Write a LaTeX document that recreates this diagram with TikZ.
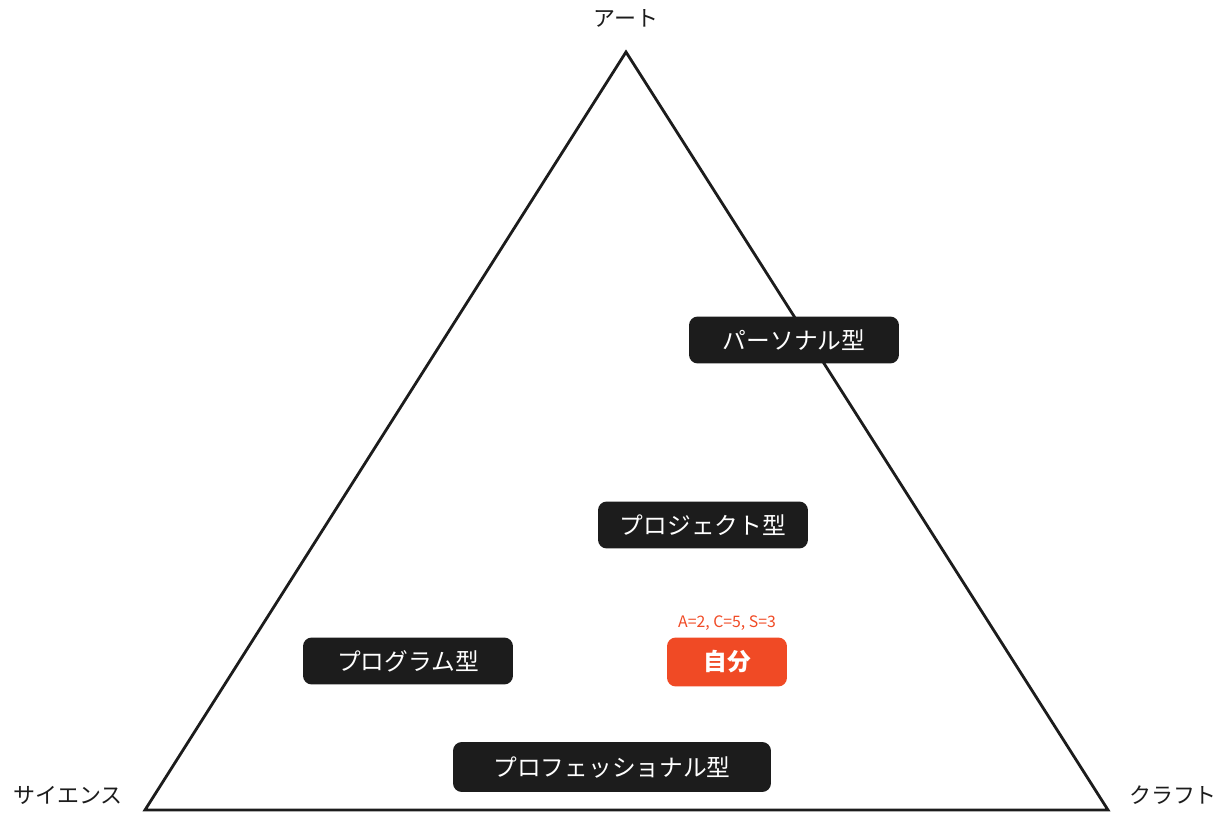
\documentclass[tikz,border=0pt]{standalone}
\usepackage{fontspec}
\setmainfont{Noto Sans CJK JP}
\definecolor{boxdark}{HTML}{1C1C1C}
\definecolor{selfred}{HTML}{F04A25}
\tikzset{
  typebox/.style={fill=boxdark, text=white, rounded corners=5pt, minimum height=0.94cm, font=\fontsize{13.5}{15}\selectfont},
  corner/.style={text=boxdark, font=\fontsize{12.5}{14}\selectfont}
}
\begin{document}
\begin{tikzpicture}[x=0.02cm, y=-0.02cm]
\useasboundingbox (0,0) rectangle (1228,814);

\coordinate (art) at (626,52) ;
\coordinate (sci) at (145,810) ;
\coordinate (cra) at (1108,810) ;
\draw [line width=1.6pt, boxdark, line join=miter] (art) -- (sci) -- (cra) -- cycle ;

\node [corner] (artlabel) at (626,18) {アート} ;
\node [corner] (scilabel) at (68,795) {サイエンス} ;
\node [corner] (cralabel) at (1173,795) {クラフト} ;

\node [typebox, minimum width=4.2cm] (personal) at (794,340) {パーソナル型} ;
\node [typebox, minimum width=4.2cm] (project) at (703,525) {プロジェクト型} ;
\node [typebox, minimum width=4.2cm] (program) at (408,661) {プログラム型} ;
\node [typebox, minimum width=6.36cm, minimum height=1.0cm] (professional) at (612,767) {プロフェッショナル型} ;

\node [typebox, fill=selfred, minimum width=2.4cm, minimum height=0.98cm, font=\fontsize{13.5}{15}\selectfont\bfseries] (self) at (727,662) {自分} ;
\node [text=selfred, font=\fontsize{9}{10}\selectfont] (score) at (727,623) {A=2, C=5, S=3} ;

\end{tikzpicture}
\end{document}
